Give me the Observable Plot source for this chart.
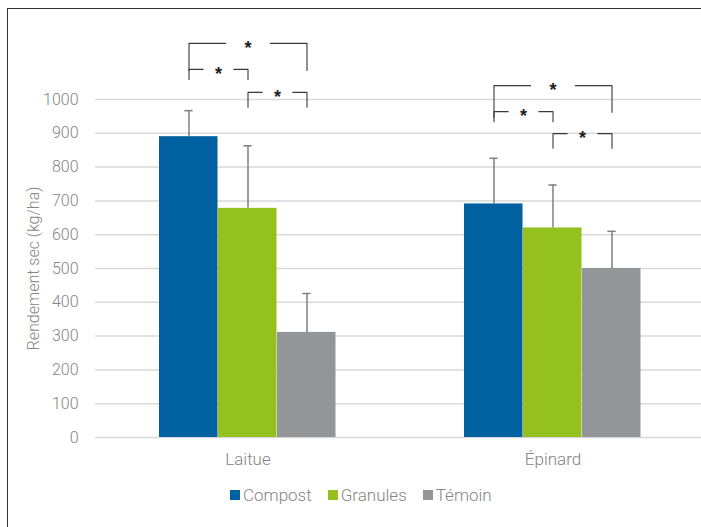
<!DOCTYPE html>
<html>
<head>
<meta charset="utf-8">
<script src="https://cdn.jsdelivr.net/npm/d3@7"></script>
<script src="https://cdn.jsdelivr.net/npm/@observablehq/plot@0.6"></script>
<style>
  html, body { margin: 0; padding: 0; background: #fff; overflow: hidden; width: 701px; height: 527px; }
  #wrap { position: relative; width: 701px; height: 527px; overflow: hidden; }
  #chart { position: absolute; left: 0; top: 0; width: 701px; height: 475px; overflow: hidden; }
  #chart svg { max-width: none !important; }
  #frame { position: absolute; left: 7px; top: 8px; width: 694px; height: 519px; border-left: 1px solid #333; border-top: 1px solid #333; pointer-events: none; box-sizing: border-box; }
  #legend { position: absolute; left: 230px; top: 485px; display: flex; align-items: center; font-family: Roboto, sans-serif; font-weight: 300; font-size: 17px; color: #858585; }
  #legend .item { display: flex; align-items: center; margin-right: 16px; }
  #legend .sw { width: 10px; height: 10px; margin-right: 3px; display: inline-block; }
</style>
</head>
<body>
<div id="wrap">
  <div id="chart"></div>
  <div id="legend"></div>
  <div id="frame"></div>
</div>
<script>
// ---- data ----
const crops = ["Laitue", "Épinard"];
const series = ["Compost", "Granules", "Témoin"];
const colors = ["#0060a0", "#95c11f", "#939598"];
const laitueMean = [890, 678, 311];
const laitueErr = [77, 185, 115];
const epinardMean = [691, 620, 500];
const epinardErr = [135, 127, 110];
const yTicks = [0, 100, 200, 300, 400, 500, 600, 700, 800, 900, 1000];

// significance brackets
const brCrop = ["Laitue", "Laitue", "Laitue", "Épinard", "Épinard", "Épinard"];
const brFrom = ["Compost", "Compost", "Granules", "Compost", "Compost", "Granules"];
const brTo = ["Témoin", "Granules", "Témoin", "Témoin", "Granules", "Témoin"];
const brTop = [1166, 1089, 1021, 1041, 964, 899];
const brLeftEnd = [1086, 1059, 977, 947, 934, 856];
const brRightEnd = [1086, 1059, 977, 962, 934, 856];
const brLabel = ["*", "*", "*", "*", "*", "*"];

// ---- build tables ----
const means = {"Laitue": laitueMean, "Épinard": epinardMean};
const errs = {"Laitue": laitueErr, "Épinard": epinardErr};
const bars = [];
crops.forEach(c => series.forEach((s, i) => {
  bars.push({crop: c, series: s, i, value: means[c][i], top: means[c][i] + errs[c][i]});
}));

const idx = s => series.indexOf(s);
const bracketLines = [];
const stars = [];
brCrop.forEach((c, k) => {
  const a = idx(brFrom[k]), b = idx(brTo[k]);
  const mid = (a + b) / 2;
  const g = (b - a) > 1 ? 0.38 : 0.26; // half-width of the gap around the asterisk
  const top = brTop[k];
  const zl = "L" + k, zr = "R" + k;
  bracketLines.push({crop: c, z: zl, x: a, y: brLeftEnd[k]});
  bracketLines.push({crop: c, z: zl, x: a, y: top});
  bracketLines.push({crop: c, z: zl, x: mid - g, y: top});
  bracketLines.push({crop: c, z: zr, x: mid + g, y: top});
  bracketLines.push({crop: c, z: zr, x: b, y: top});
  bracketLines.push({crop: c, z: zr, x: b, y: brRightEnd[k]});
  stars.push({crop: c, x: mid, y: top, label: brLabel[k]});
});

const pad = 1.085;
const capHalf = 0.07;

const plot = Plot.plot({
  width: 705,
  height: 475,
  marginLeft: 95,
  marginRight: 0,
  marginTop: 99,
  marginBottom: 38,
  style: {fontFamily: "Roboto, sans-serif", fontWeight: 300, fontSize: "16px", color: "#858585", background: "transparent", overflow: "visible", maxWidth: "none"},
  fx: {domain: crops, padding: 0, label: null, axis: null},
  x: {domain: [-0.5 - pad, series.length - 0.5 + pad], axis: null},
  y: {domain: [0, 1000], axis: null},
  color: {domain: series, range: colors},
  marks: [
    Plot.ruleY(yTicks, {stroke: "#d9d9d9", strokeWidth: 1.5}),
    Plot.axisY({ticks: yTicks, tickSize: 0, tickPadding: 17, tickFormat: "d",
      label: "Rendement sec (kg/ha)", labelAnchor: "center", labelArrow: "none", labelOffset: 68}),
    Plot.axisFx({anchor: "bottom", tickSize: 0, tickPadding: 15, label: null, fontSize: 17}),
    Plot.rectY(bars, {fx: "crop", x1: d => d.i - 0.5, x2: d => d.i + 0.5, y: "value", fill: "series", insetRight: 0.5}),
    Plot.ruleX(bars, {fx: "crop", x: "i", y1: "value", y2: "top", stroke: "#7f7f7f", strokeWidth: 1.5}),
    Plot.ruleY(bars, {fx: "crop", y: "top", x1: d => d.i - capHalf, x2: d => d.i + capHalf, stroke: "#7f7f7f", strokeWidth: 1.5}),
    Plot.line(bracketLines, {fx: "crop", x: "x", y: "y", z: "z", stroke: "#3a3a3a", strokeWidth: 1.1}),
    Plot.text(stars, {fx: "crop", x: "x", y: "y", text: "label", fill: "#222", fontSize: 18, fontWeight: 700, fontFamily: "Liberation Sans", dy: 5})
  ]
});
plot.style.maxWidth = "none";
document.getElementById("chart").appendChild(plot);

// legend
const leg = document.getElementById("legend");
series.forEach((s, i) => {
  const it = document.createElement("span");
  it.className = "item";
  const sw = document.createElement("span");
  sw.className = "sw";
  sw.style.background = colors[i];
  it.appendChild(sw);
  it.appendChild(document.createTextNode(s));
  leg.appendChild(it);
});
</script>
</body>
</html>
